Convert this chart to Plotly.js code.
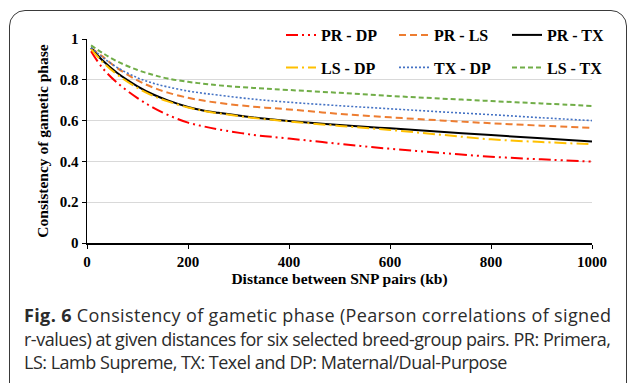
<!DOCTYPE html>
<html>
<head>
<meta charset="utf-8">
<script src="https://cdn.plot.ly/plotly-3.0.1.min.js"></script>
<style>
  html, body { margin: 0; padding: 0; background: #fff; }
  #wrap { position: relative; width: 630px; height: 383px; overflow: hidden; }
  #frame { position: absolute; left: 9px; top: 10px; width: 618px; height: 400px;
           border: 1.4px solid #3a3a3a; border-radius: 16px; box-sizing: border-box; }
  #chart { position: absolute; left: 0; top: 0; width: 630px; height: 383px; }
  #caption { position: absolute; left: 24px; top: 304px; width: 600px;
             font-family: "Open Sans", sans-serif; font-size: 18px; line-height: 23.5px;
             color: #2b2b2b; white-space: nowrap; }
  #caption span { display: block; }
  #caption b { font-weight: 700; }
</style>
</head>
<body>
<div id="wrap">
  <div id="frame"></div>
  <div id="chart"></div>
  <div id="caption"><span><b>Fig. 6</b> Consistency of gametic phase (Pearson correlations of signed</span><span>r-values) at given distances for six selected breed-group pairs. PR: Primera,</span><span>LS: Lamb Supreme, TX: Texel and DP: Maternal/Dual-Purpose</span></div>
</div>
<script>
// Distance between SNP pairs (kb)
const distance = [8, 30, 60, 100, 130, 160, 200, 230, 260, 330, 400, 500, 600, 700, 800, 900, 1000];

// Consistency of gametic phase per breed-group pair
const prDP = [0.94, 0.86, 0.785, 0.71, 0.665, 0.628, 0.59, 0.572, 0.557, 0.53, 0.512, 0.486, 0.462, 0.442, 0.423, 0.41, 0.399];
const prLS = [0.955, 0.916, 0.857, 0.797, 0.763, 0.737, 0.712, 0.698, 0.687, 0.668, 0.655, 0.633, 0.616, 0.601, 0.587, 0.575, 0.564];
const prTX = [0.956, 0.897, 0.833, 0.768, 0.729, 0.699, 0.667, 0.65, 0.638, 0.615, 0.598, 0.578, 0.562, 0.545, 0.529, 0.513, 0.497];
const lsDP = [0.952, 0.89, 0.825, 0.76, 0.722, 0.694, 0.664, 0.648, 0.636, 0.613, 0.596, 0.574, 0.554, 0.531, 0.508, 0.495, 0.484];
const txDP = [0.958, 0.912, 0.86, 0.81, 0.784, 0.765, 0.745, 0.734, 0.725, 0.705, 0.69, 0.673, 0.658, 0.643, 0.629, 0.614, 0.600];
const lsTX = [0.969, 0.933, 0.89, 0.848, 0.825, 0.806, 0.79, 0.781, 0.773, 0.76, 0.75, 0.736, 0.721, 0.708, 0.696, 0.684, 0.672];

const names = ["PR - DP", "PR - LS", "PR - TX", "LS - DP", "TX - DP", "LS - TX"];
const series = [prDP, prLS, prTX, lsDP, txDP, lsTX];
const colors = ["#FF0000", "#ED7D31", "#000000", "#FFC000", "#4472C4", "#70AD47"];
const dashes = ["12px,4px,2px,4px,2px,4px", "7px,4px", "solid", "12px,4px,2px,4px", "2px,2px", "5px,3px"];
const widths = [2, 2, 2, 2, 1.6, 2];
const legendOf = ["legend", "legend", "legend", "legend2", "legend2", "legend2"];

const serif = "Liberation Serif, Times New Roman, serif";

const traces = series.map((vals, i) => ({
  type: "scatter", mode: "lines", x: distance, y: vals, name: names[i],
  line: { color: colors[i], dash: dashes[i], width: widths[i], shape: "spline", smoothing: 1 },
  legend: legendOf[i]
}));

const legendCommon = {
  orientation: "h", xref: "container", yref: "container",
  xanchor: "left", yanchor: "middle",
  bgcolor: "rgba(0,0,0,0)", entrywidth: 68, entrywidthmode: "pixels",
  font: { family: serif, size: 16, color: "#000", weight: 700 }
};

const layout = {
  width: 630, height: 383,
  margin: { l: 87, r: 38, t: 39, b: 140, autoexpand: false },
  paper_bgcolor: "rgba(0,0,0,0)", plot_bgcolor: "rgba(0,0,0,0)",
  showlegend: true,
  legend: Object.assign({}, legendCommon, { x: 281 / 630, y: 1 - 35 / 383 }),
  legend2: Object.assign({}, legendCommon, { x: 281 / 630, y: 1 - 67.5 / 383 }),
  xaxis: {
    range: [0, 1000], tickvals: [0, 200, 400, 600, 800, 1000],
    showgrid: false, zeroline: false, showline: true, linecolor: "#000", linewidth: 1.5,
    ticks: "outside", ticklen: 4, tickcolor: "#000",
    tickfont: { family: serif, size: 15, color: "#000", weight: 700 },
    title: { text: "Distance between SNP pairs (kb)", standoff: 4,
             font: { family: serif, size: 15.5, color: "#000", weight: 700 } }
  },
  yaxis: {
    range: [0, 1], tickvals: [0, 0.2, 0.4, 0.6, 0.8, 1],
    ticktext: ["0", "0.2", "0.4", "0.6", "0.8", "1"],
    showgrid: true, gridcolor: "#d9d9d9", gridwidth: 1,
    zeroline: false, showline: true, linecolor: "#000", linewidth: 1.5,
    ticks: "outside", ticklen: 4, tickcolor: "#000",
    tickfont: { family: serif, size: 15, color: "#000", weight: 700 },
    title: { text: "Consistency of gametic phase", standoff: 7,
             font: { family: serif, size: 15.5, color: "#000", weight: 700 } }
  }
};

Plotly.newPlot("chart", traces, layout, { displayModeBar: false, staticPlot: true });

// Fit each caption line to the reference line width
const targetWidth = 587;
document.querySelectorAll("#caption span").forEach((s, i) => {
  if (i === 2) return;
  s.style.display = "inline-block";
  const w = s.getBoundingClientRect().width;
  const n = s.textContent.length;
  s.style.letterSpacing = ((targetWidth - w) / (n - 1)) + "px";
  s.style.display = "block";
});
const spans = document.querySelectorAll("#caption span");
spans[2].style.letterSpacing = spans[1].style.letterSpacing;
</script>
</body>
</html>
